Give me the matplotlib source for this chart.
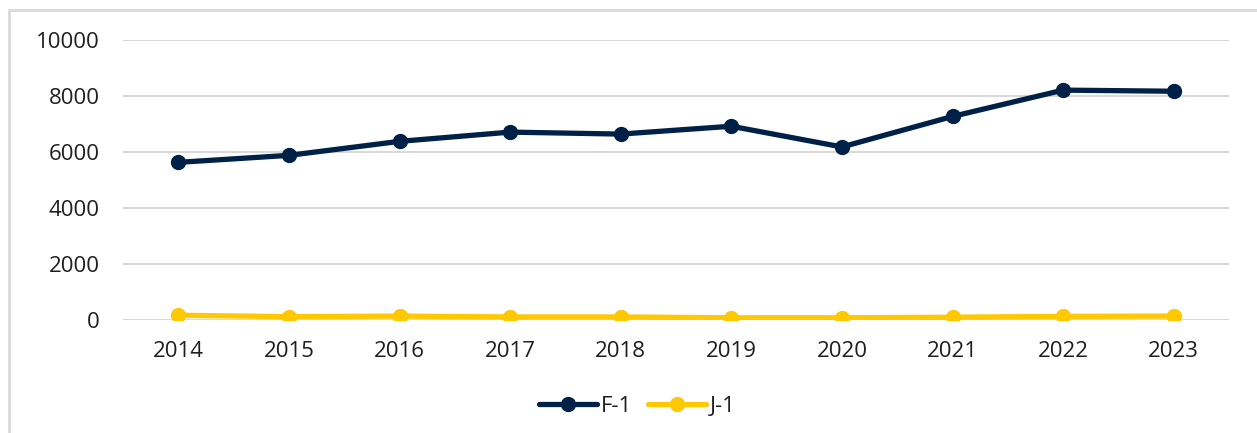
import matplotlib.pyplot as plt
from matplotlib.patches import Rectangle

years = ['2014', '2015', '2016', '2017', '2018', '2019', '2020', '2021', '2022', '2023']
f1 = [5630, 5880, 6380, 6710, 6640, 6920, 6180, 7270, 8210, 8170]
j1 = [170, 120, 140, 110, 110, 80, 80, 100, 130, 140]
yticks = [0, 2000, 4000, 6000, 8000, 10000]

plt.rcParams['font.family'] = ['Open Sans', 'DejaVu Sans']

fig = plt.figure(figsize=(12.57, 4.33), dpi=100)
# outer chart frame (partly cut off on the right and bottom, like the original)
fig.patches.append(Rectangle((9 / 1257, -0.05), 1.2, (433 - 10) / 433 + 0.05,
                             transform=fig.transFigure, fill=False,
                             edgecolor='#D9D9D9', linewidth=2))

ax = fig.add_axes([123 / 1257, 113 / 433, 1106 / 1257, 280 / 433])
x = range(len(years))
ax.plot(x, f1, color='#002147', lw=3.8, marker='o', ms=10, label='F-1', solid_capstyle='round')
ax.plot(x, j1, color='#FFC800', lw=3.8, marker='o', ms=10, label='J-1', solid_capstyle='round')

ax.set_xlim(-0.5, len(years) - 0.5)
ax.set_ylim(0, 10000)
ax.set_xticks(list(x))
ax.set_xticklabels(years)
ax.set_yticks(yticks)
ax.tick_params(length=0, labelsize=16, colors='#1E1E1E')
ax.tick_params(axis='x', pad=15)
ax.tick_params(axis='y', pad=17)
ax.grid(axis='y', color='#D9D9D9', lw=1.5)
ax.set_axisbelow(True)
for s in ax.spines.values():
    s.set_visible(False)

ax.legend(loc='upper center', bbox_to_anchor=(0.465, -0.2), ncol=2, frameon=False,
          fontsize=16, handlelength=2.6, columnspacing=0.7, handletextpad=0.2,
          labelcolor='#1E1E1E')

fig.savefig('out.png', dpi=100)
